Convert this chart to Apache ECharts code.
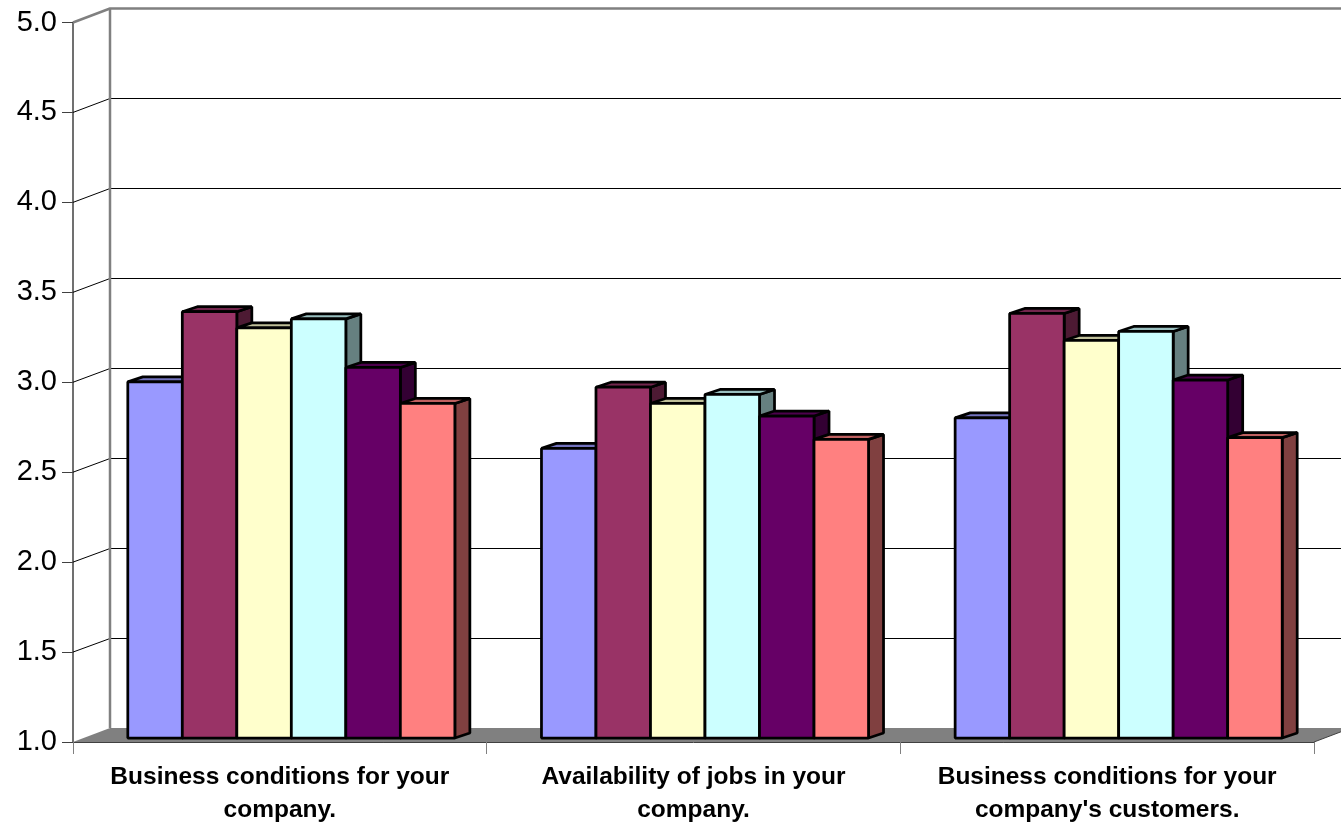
<!DOCTYPE html>
<html>
<head>
<meta charset="utf-8">
<style>html,body{margin:0;padding:0;background:#fff}#c{width:1341px;height:825px}</style>
<script src="https://cdn.jsdelivr.net/npm/echarts@6/dist/echarts.min.js"></script>
</head>
<body>
<div id="c"></div>
<script>
const categories = ["Business conditions for your\ncompany.", "Availability of jobs in your\ncompany.", "Business conditions for your\ncompany's customers."];
const yTicks = [1.5, 2.0, 2.5, 3.0, 3.5, 4.0, 4.5, 5.0];
const seriesA = [2.98, 2.61, 2.78];
const seriesB = [3.37, 2.95, 3.36];
const seriesC = [3.28, 2.86, 3.21];
const seriesD = [3.33, 2.91, 3.26];
const seriesE = [3.06, 2.79, 2.99];
const seriesF = [2.86, 2.66, 2.67];

const palette = [
  { front: '#9999FF', top: '#7373BF', side: '#4D4D80' },
  { front: '#993366', top: '#73264D', side: '#4D1A33' },
  { front: '#FFFFCC', top: '#BFBF99', side: '#808066' },
  { front: '#CCFFFF', top: '#99BFBF', side: '#668080' },
  { front: '#660066', top: '#4D004D', side: '#330033' },
  { front: '#FF8080', top: '#BF6060', side: '#804040' }
];
const allSeries = [seriesA, seriesB, seriesC, seriesD, seriesE, seriesF];

// pseudo-3D depth, in pixels
const WALL_DX = 37, WALL_DY = -14;
const GAP_DX = 11.5, GAP_DY = -4;
const BAR_DX = 15, BAR_DY = -5;
const BAR_RATIO = 54.5 / 413.6;
const GRAY = '#808080';

const snap = y => Math.floor(y) + 0.5;
function poly(points, fill, stroke, lw) {
  return { type: 'polygon', shape: { points }, style: { fill, stroke: stroke || null, lineWidth: lw || 0, lineJoin: 'bevel' } };
}
function line(points, stroke, lw) {
  return { type: 'polyline', shape: { points }, style: { fill: null, stroke, lineWidth: lw, lineJoin: 'bevel' } };
}

const wallSeries = {
  type: 'custom', coordinateSystem: 'cartesian2d', silent: true, z: 1,
  data: yTicks.map(v => [0, v]),
  encode: { x: 0, y: 1 },
  renderItem(params, api) {
    const cs = params.coordSys;
    const v = api.value(1);
    const y = api.coord([0, v])[1];
    const x0 = cs.x, x1 = cs.x + cs.width;
    const isTop = v === 5;
    const by = cs.y + cs.height;
    const wy = isTop ? y + WALL_DY : snap(y + WALL_DY);
    const children = [line([[x0, y], [x0 + WALL_DX, wy], [x1 + WALL_DX, wy]], isTop ? GRAY : '#000', isTop ? 2.5 : 1)];
    if (params.dataIndex === 0) {
      children.unshift(poly([[x0, by], [x0 + WALL_DX, by + WALL_DY], [x1 + WALL_DX, by + WALL_DY], [x1, by]], GRAY));
      children.push(line([[x1, by], [x1 + WALL_DX, by + WALL_DY]], '#404040', 1));
    }
    if (isTop) {
      children.push(line([[x0 + WALL_DX, by + WALL_DY], [x0 + WALL_DX, y + WALL_DY]], GRAY, 2.5));
    }
    return { type: 'group', children };
  }
};

function barSeries(values, idx) {
  const c = palette[idx];
  return {
    type: 'custom', coordinateSystem: 'cartesian2d', silent: true, z: 5 + idx,
    data: values.map((v, i) => [i, v]),
    encode: { x: 0, y: 1 },
    renderItem(params, api) {
      const i = api.value(0), v = api.value(1);
      const pTop = api.coord([i, v]), pBase = api.coord([i, 1]);
      const band = api.size([1, 0])[0];
      const w = band * BAR_RATIO;
      const l = pTop[0] - 3 * w + idx * w + GAP_DX;
      const r = l + w;
      const t = pTop[1] + GAP_DY, b = pBase[1] + GAP_DY;
      const lw = 2.75;
      return {
        type: 'group',
        children: [
          poly([[r, t], [r + BAR_DX, t + BAR_DY], [r + BAR_DX, b + BAR_DY], [r, b]], c.side, '#000', lw),
          poly([[l, t], [l + BAR_DX, t + BAR_DY], [r + BAR_DX, t + BAR_DY], [r, t]], c.top, '#000', lw),
          poly([[l, t], [r, t], [r, b], [l, b]], c.front, '#000', lw)
        ]
      };
    }
  };
}

const chart = echarts.init(document.getElementById('c'), null, { renderer: 'canvas' });
chart.setOption({
  animation: false,
  backgroundColor: '#ffffff',
  grid: { left: 73, right: 27, top: 22.5, bottom: 83, containLabel: false, outerBoundsMode: 'none' },
  xAxis: {
    type: 'category', data: categories, boundaryGap: true,
    axisLine: { show: true, lineStyle: { color: '#404040', width: 1 } },
    axisTick: { show: true, length: 12, alignWithLabel: false, lineStyle: { color: GRAY, width: 1 } },
    axisLabel: { interval: 0, margin: 19, color: '#000', fontFamily: 'Liberation Sans', fontWeight: 'bold', fontSize: 24.5, lineHeight: 33 },
    splitLine: { show: false }
  },
  yAxis: {
    type: 'value', min: 1, max: 5, interval: 0.5,
    axisLine: { show: true, lineStyle: { color: '#404040', width: 1.5 } },
    axisTick: { show: true, length: 11, lineStyle: { color: '#404040', width: 1 } },
    axisLabel: { margin: 16, color: '#000', fontFamily: 'Liberation Sans', fontSize: 29, padding: [2, 0, 0, 0], formatter: v => v.toFixed(1) },
    splitLine: { show: false }
  },
  series: [wallSeries].concat(allSeries.map(barSeries))
});
</script>
</body>
</html>
